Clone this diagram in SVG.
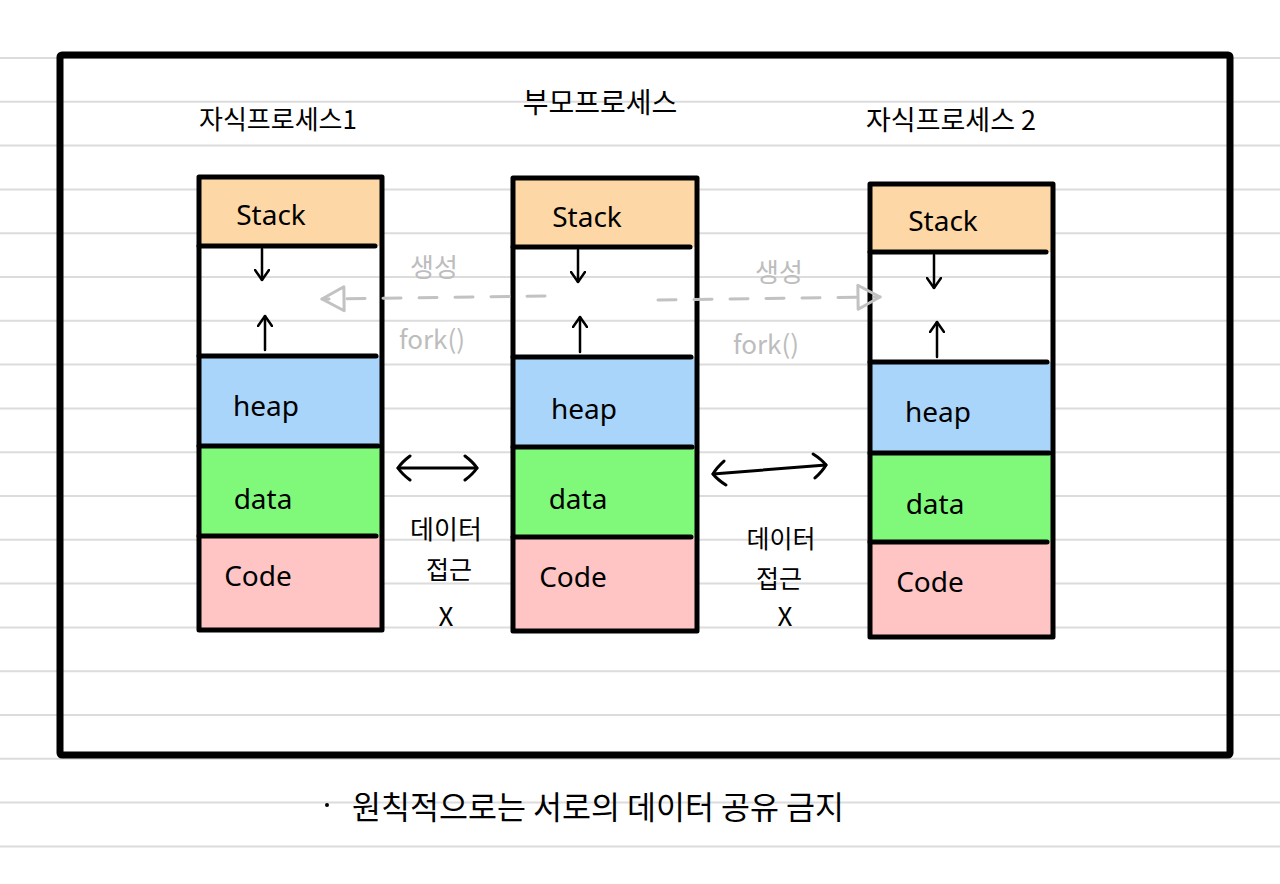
<svg xmlns="http://www.w3.org/2000/svg" width="1280" height="884" viewBox="0 0 1280 884">
<style>
.rule{stroke:#dcdcdc;stroke-width:2}
.frame{fill:none;stroke:#000;stroke-width:7;stroke-linejoin:round}
.box{fill:none;stroke:#000;stroke-width:5;stroke-linejoin:round}
.div{stroke:#000;stroke-width:5;stroke-linecap:round}
.stack{fill:#fdd8a6}
.heap{fill:#aad5fb}
.data{fill:#80f97b}
.code{fill:#ffc5c5}
.lbl{font-family:"Noto Sans","Noto Sans CJK KR",sans-serif;font-size:28px;fill:#000;text-anchor:middle;dominant-baseline:central}
.ko{font-family:"Noto Sans CJK KR",sans-serif;fill:#000;text-anchor:middle;dominant-baseline:central}
.gray{font-family:"Noto Sans CJK KR",sans-serif;fill:#bdbdbd;text-anchor:middle;dominant-baseline:central;font-size:26px}
.small{stroke:#000;stroke-width:2.5;fill:none;stroke-linecap:round}
.dash{stroke:#c2c2c2;stroke-width:3;fill:none;stroke-dasharray:18 18;stroke-linecap:round}
.both{stroke:#000;stroke-width:3;fill:none;stroke-linecap:round}
</style>
<defs>
<marker id="chev" viewBox="0 0 12 16" refX="11" refY="8" markerWidth="12" markerHeight="16" markerUnits="userSpaceOnUse" orient="auto-start-reverse">
<path d="M1,1 L11,8 L1,15" fill="none" stroke="#000" stroke-width="2.5" stroke-linecap="round" stroke-linejoin="round"/>
</marker>
<marker id="chevBig" viewBox="0 0 16 28" refX="14" refY="14" markerWidth="16" markerHeight="28" markerUnits="userSpaceOnUse" orient="auto-start-reverse">
<path d="M2,2 Q10,8 14,14 Q10,20 2,26" fill="none" stroke="#000" stroke-width="3" stroke-linecap="round" stroke-linejoin="round"/>
</marker>
<marker id="tri" viewBox="0 0 26 28" refX="24" refY="14" markerWidth="26" markerHeight="28" markerUnits="userSpaceOnUse" orient="auto">
<path d="M2,2 L24,14 L2,26 Z" fill="none" stroke="#c2c2c2" stroke-width="3" stroke-linejoin="round"/>
</marker>
</defs>

<g id="ruled-paper">
<line class="rule" x1="0" y1="58" x2="1280" y2="58"/>
<line class="rule" x1="0" y1="101.8" x2="1280" y2="101.8"/>
<line class="rule" x1="0" y1="145.6" x2="1280" y2="145.6"/>
<line class="rule" x1="0" y1="189.4" x2="1280" y2="189.4"/>
<line class="rule" x1="0" y1="233.2" x2="1280" y2="233.2"/>
<line class="rule" x1="0" y1="277" x2="1280" y2="277"/>
<line class="rule" x1="0" y1="320.8" x2="1280" y2="320.8"/>
<line class="rule" x1="0" y1="364.6" x2="1280" y2="364.6"/>
<line class="rule" x1="0" y1="408.4" x2="1280" y2="408.4"/>
<line class="rule" x1="0" y1="452.2" x2="1280" y2="452.2"/>
<line class="rule" x1="0" y1="496" x2="1280" y2="496"/>
<line class="rule" x1="0" y1="539.8" x2="1280" y2="539.8"/>
<line class="rule" x1="0" y1="583.6" x2="1280" y2="583.6"/>
<line class="rule" x1="0" y1="627.4" x2="1280" y2="627.4"/>
<line class="rule" x1="0" y1="671.2" x2="1280" y2="671.2"/>
<line class="rule" x1="0" y1="715" x2="1280" y2="715"/>
<line class="rule" x1="0" y1="758.8" x2="1280" y2="758.8"/>
<line class="rule" x1="0" y1="802.6" x2="1280" y2="802.6"/>
<line class="rule" x1="0" y1="846.4" x2="1280" y2="846.4"/>
</g>

<rect id="frame" class="frame" x="60" y="55" width="1170" height="700" rx="2"/>

<g id="child1">
<text class="ko" x="278" y="117" font-size="26">자식프로세스1</text>
<rect class="stack" x="199" y="177" width="183" height="69"/>
<rect class="heap" x="199" y="356" width="183" height="90"/>
<rect class="data" x="199" y="446" width="183" height="90"/>
<rect class="code" x="199" y="536" width="183" height="94"/>
<line class="div" x1="199" y1="246" x2="375" y2="246"/>
<line class="div" x1="199" y1="356" x2="376" y2="356"/>
<line class="div" x1="199" y1="446" x2="378" y2="446"/>
<line class="div" x1="199" y1="536" x2="376" y2="536"/>
<rect class="box" x="199" y="177" width="183" height="453"/>
<line class="small" x1="262" y1="249" x2="262" y2="280" marker-end="url(#chev)"/>
<line class="small" x1="265" y1="350" x2="265" y2="316" marker-end="url(#chev)"/>
<text class="lbl" x="271" y="214">Stack</text>
<text class="lbl" x="266" y="405">heap</text>
<text class="lbl" x="263" y="498">data</text>
<text class="lbl" x="258" y="575">Code</text>
</g>

<g id="parent">
<text class="ko" x="600" y="101" font-size="28">부모프로세스</text>
<rect class="stack" x="513" y="178" width="184" height="69"/>
<rect class="heap" x="513" y="357" width="184" height="90"/>
<rect class="data" x="513" y="447" width="184" height="90"/>
<rect class="code" x="513" y="537" width="184" height="94"/>
<line class="div" x1="513" y1="247" x2="690" y2="247"/>
<line class="div" x1="513" y1="357" x2="691" y2="357"/>
<line class="div" x1="513" y1="447" x2="692" y2="447"/>
<line class="div" x1="513" y1="537" x2="691" y2="537"/>
<rect class="box" x="513" y="178" width="184" height="453"/>
<line class="small" x1="578" y1="250" x2="578" y2="282" marker-end="url(#chev)"/>
<line class="small" x1="580" y1="352" x2="580" y2="317" marker-end="url(#chev)"/>
<text class="lbl" x="587" y="216">Stack</text>
<text class="lbl" x="584" y="408">heap</text>
<text class="lbl" x="578" y="498">data</text>
<text class="lbl" x="573" y="576">Code</text>
</g>

<g id="child2">
<text class="ko" x="951" y="118" font-size="27">자식프로세스 2</text>
<rect class="stack" x="870" y="184" width="183" height="68"/>
<rect class="heap" x="870" y="362" width="183" height="91"/>
<rect class="data" x="870" y="453" width="183" height="89"/>
<rect class="code" x="870" y="542" width="183" height="95"/>
<line class="div" x1="870" y1="252" x2="1046" y2="252"/>
<line class="div" x1="870" y1="362" x2="1047" y2="362"/>
<line class="div" x1="870" y1="453" x2="1049" y2="453"/>
<line class="div" x1="870" y1="542" x2="1047" y2="542"/>
<rect class="box" x="870" y="184" width="183" height="453"/>
<line class="small" x1="934" y1="255" x2="934" y2="288" marker-end="url(#chev)"/>
<line class="small" x1="937" y1="357" x2="937" y2="322" marker-end="url(#chev)"/>
<text class="lbl" x="943" y="220">Stack</text>
<text class="lbl" x="938" y="411">heap</text>
<text class="lbl" x="935" y="503">data</text>
<text class="lbl" x="930" y="581">Code</text>
</g>

<g id="connectors">
<path class="dash" d="M545,296 L322,299" marker-end="url(#tri)"/>
<path class="dash" d="M658,300 L880,297" marker-end="url(#tri)"/>
<path class="both" d="M398,468 L477,468" marker-start="url(#chevBig)" marker-end="url(#chevBig)"/>
<path class="both" d="M713,474 L826,465" marker-start="url(#chevBig)" marker-end="url(#chevBig)"/>
</g>

<g id="labels">
<text class="gray" x="434" y="265">생성</text>
<text class="gray" x="432" y="337">fork()</text>
<text class="gray" x="779" y="270">생성</text>
<text class="gray" x="766" y="342">fork()</text>
<text class="ko" x="446" y="527" font-size="26">데이터</text>
<text class="ko" x="449" y="568" font-size="25">접근</text>
<text class="ko" x="446" y="614" font-size="26">X</text>
<text class="ko" x="781" y="537" font-size="25">데이터</text>
<text class="ko" x="779" y="577" font-size="25">접근</text>
<text class="ko" x="785" y="614" font-size="26">X</text>
<circle cx="327" cy="805" r="2" fill="#000"/>
<text class="ko" x="598" y="805" font-size="31.5">원칙적으로는 서로의 데이터 공유 금지</text>
</g>
</svg>
